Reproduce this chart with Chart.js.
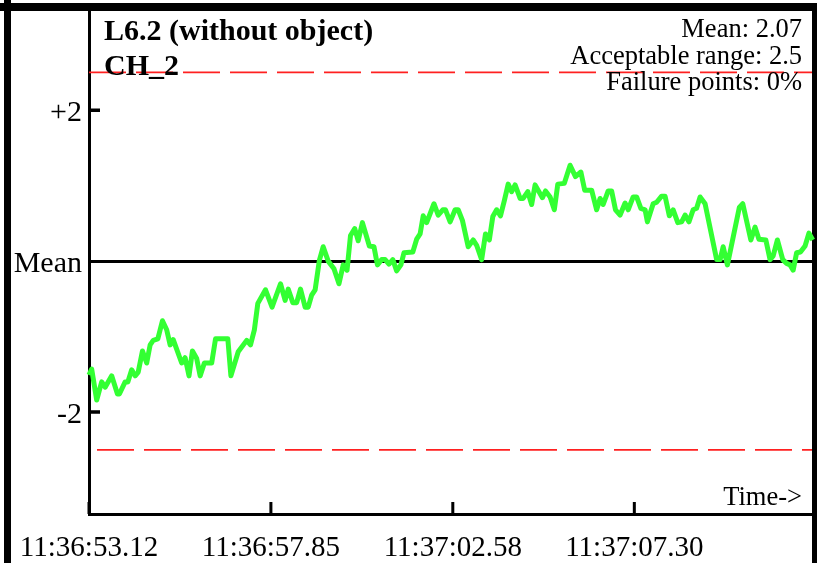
<!DOCTYPE html>
<html>
<head>
<meta charset="utf-8">
<script src="https://cdn.jsdelivr.net/npm/chart.js@4/dist/chart.umd.min.js"></script>
<style>
  html, body { margin: 0; padding: 0; background: #fff; }
  #wrap { width: 817px; height: 563px; position: relative; }
</style>
</head>
<body>
<div id="wrap"><canvas id="c" width="817" height="563"></canvas></div>
<script>
// Panel header and summary text
const titleLines = ['L6.2 (without object)', 'CH_2'];
const statLines = ['Mean: 2.07', 'Acceptable range: 2.5', 'Failure points: 0%'];
const timeAxisNote = 'Time->';

// Limits (deviation from the mean)
const acceptableRange = 2.5;

// Time axis: seconds since the first sample
const timeSpan = 18.80;
const timeTickValues = [0, 4.73, 9.46, 14.18];
const timeTickLabels = ['11:36:53.12', '11:36:57.85', '11:37:02.58', '11:37:07.30'];

// Deviation axis
const devMin = -3.35;
const devMax = 3.30;
const devTickValues = [-2, 0, 2];
const devTickLabels = ['-2', 'Mean', '+2'];

// CH_2 samples: time (s) and deviation from the mean
const sampleTimes = [
  0.00, 0.07, 0.20, 0.33, 0.42, 0.59, 0.74, 0.79, 0.94, 1.01,
  1.11, 1.20, 1.28, 1.39, 1.50, 1.59, 1.67, 1.79, 1.91, 2.02,
  2.11, 2.19, 2.41, 2.50, 2.60, 2.69, 2.80, 2.89, 3.00, 3.19,
  3.29, 3.61, 3.69, 3.88, 4.10, 4.20, 4.30, 4.39, 4.59, 4.76,
  4.98, 5.10, 5.18, 5.30, 5.40, 5.50, 5.62, 5.70, 5.79, 5.88,
  5.99, 6.09, 6.22, 6.37, 6.50, 6.61, 6.71, 6.80, 6.91, 7.00,
  7.11, 7.29, 7.41, 7.50, 7.61, 7.70, 7.80, 7.90, 8.00, 8.11,
  8.19, 8.42, 8.52, 8.61, 8.69, 8.78, 8.97, 9.08, 9.20, 9.27,
  9.39, 9.52, 9.60, 9.71, 9.86, 9.99, 10.08, 10.21, 10.31, 10.41,
  10.50, 10.60, 10.70, 10.80, 10.90, 10.99, 11.08, 11.21, 11.29, 11.41,
  11.51, 11.60, 11.79, 11.87, 11.99, 12.10, 12.19, 12.36, 12.51, 12.65,
  12.79, 12.89, 13.07, 13.20, 13.29, 13.37, 13.50, 13.59, 13.69, 13.81,
  13.94, 14.02, 14.15, 14.24, 14.35, 14.46, 14.52, 14.67, 14.76, 14.89,
  14.98, 15.09, 15.19, 15.31, 15.41, 15.50, 15.60, 15.71, 15.80, 15.89,
  16.02, 16.32, 16.41, 16.49, 16.60, 16.91, 17.00, 17.21, 17.32, 17.42,
  17.60, 17.71, 17.79, 17.90, 18.04, 18.14, 18.23, 18.31, 18.40, 18.50,
  18.62, 18.72, 18.82, 18.88
];
const deviation = [
  -1.51, -1.43, -1.84, -1.60, -1.67, -1.52, -1.76, -1.76, -1.60, -1.60,
  -1.44, -1.52, -1.47, -1.19, -1.35, -1.11, -1.05, -1.03, -0.79, -0.91,
  -1.11, -1.04, -1.35, -1.28, -1.52, -1.19, -1.29, -1.52, -1.35, -1.35,
  -1.03, -1.03, -1.52, -1.20, -1.05, -1.11, -0.91, -0.56, -0.38, -0.61,
  -0.30, -0.52, -0.37, -0.55, -0.55, -0.37, -0.61, -0.61, -0.45, -0.38,
  0.01, 0.19, 0.00, -0.10, -0.30, -0.05, -0.12, 0.34, 0.43, 0.27,
  0.51, 0.20, 0.19, -0.05, 0.02, 0.02, -0.04, 0.02, -0.13, -0.05,
  0.11, 0.12, 0.29, 0.36, 0.60, 0.51, 0.76, 0.61, 0.68, 0.68,
  0.52, 0.68, 0.68, 0.54, 0.19, 0.28, 0.21, 0.02, 0.36, 0.28,
  0.59, 0.68, 0.60, 0.80, 1.02, 0.92, 1.01, 0.83, 0.83, 0.92,
  0.75, 1.01, 0.84, 0.93, 0.85, 0.68, 1.02, 1.03, 1.27, 1.12,
  1.18, 0.94, 0.94, 0.68, 0.83, 0.75, 0.93, 0.93, 0.68, 0.61,
  0.77, 0.68, 0.85, 0.85, 0.70, 0.68, 0.52, 0.76, 0.78, 0.86,
  0.86, 0.60, 0.68, 0.51, 0.52, 0.61, 0.52, 0.68, 0.70, 0.85,
  0.76, 0.02, 0.02, 0.19, -0.05, 0.71, 0.76, 0.28, 0.45, 0.29,
  0.28, 0.02, 0.07, 0.28, 0.02, -0.03, -0.05, -0.12, 0.11, 0.12,
  0.20, 0.37, 0.28, 0.43
];

const SERIF = "'Liberation Serif', 'Times New Roman', serif";
Chart.defaults.font.family = SERIF;
Chart.defaults.color = '#000';

// Thick panel frame, drawn beneath everything else
const panelFrame = {
  id: 'panelFrame',
  beforeDraw(chart) {
    const { ctx, width, height } = chart;
    ctx.save();
    ctx.fillStyle = '#fff';
    ctx.fillRect(0, 0, width, height);
    ctx.fillStyle = '#000';
    ctx.fillRect(0, 3, width, 8);          // top rule
    ctx.fillRect(4, 0, 7, height);         // left rule
    ctx.fillRect(width - 5, 3, 5, height); // right rule
    ctx.restore();
  }
};

// Inward tick marks plus the header / summary text
const panelDecor = {
  id: 'panelDecor',
  afterDatasetsDraw(chart) {
    const { ctx, chartArea, scales } = chart;
    ctx.save();
    ctx.strokeStyle = '#000';
    ctx.lineWidth = 3.5;
    ctx.beginPath();
    devTickValues.forEach(v => {
      if (v === 0) return;
      const y = scales.y.getPixelForValue(v);
      ctx.moveTo(chartArea.left, y);
      ctx.lineTo(chartArea.left + 11, y);
    });
    ctx.stroke();
    ctx.lineWidth = 3;
    ctx.beginPath();
    timeTickValues.forEach(v => {
      const x = scales.x.getPixelForValue(v);
      ctx.moveTo(x, chartArea.bottom);
      ctx.lineTo(x, chartArea.bottom - 12);
    });
    ctx.stroke();

    ctx.fillStyle = '#000';
    ctx.textBaseline = 'alphabetic';
    ctx.textAlign = 'left';
    ctx.font = 'bold 30px ' + SERIF;
    titleLines.forEach((t, i) => ctx.fillText(t, chartArea.left + 15, 40 + i * 35));

    ctx.textAlign = 'right';
    ctx.font = '26.5px ' + SERIF;
    statLines.forEach((t, i) => ctx.fillText(t, chartArea.right - 10, 37 + i * 26.5));
    ctx.fillText(timeAxisNote, chartArea.right - 10, chartArea.bottom - 9);
    ctx.restore();
  }
};

const limitLine = (value, offset) => ({
  data: [{ x: 0, y: value }, { x: timeSpan, y: value }],
  borderColor: '#ff2020',
  borderWidth: 1.6,
  borderDash: [37, 10],
  borderDashOffset: offset,
  pointRadius: 0,
  fill: false,
  order: 2
});

// Fixed scale sizes, with no extra room reserved for edge labels
const fixX = s => { s.height = 49; s.paddingLeft = 0; s.paddingRight = 0; };
const fixY = s => { s.width = 89; s.paddingTop = 0; s.paddingBottom = 0; };

new Chart(document.getElementById('c'), {
  type: 'line',
  data: {
    datasets: [
      {
        label: 'CH_2',
        data: sampleTimes.map((t, i) => ({ x: t, y: deviation[i] })),
        borderColor: '#33ff33',
        borderWidth: 5,
        borderJoinStyle: 'round',
        pointRadius: 0,
        tension: 0,
        fill: false,
        clip: 4,
        order: 1
      },
      limitLine(acceptableRange, 0),
      limitLine(-acceptableRange, 39)
    ]
  },
  options: {
    responsive: false,
    animation: false,
    devicePixelRatio: 1,
    layout: { padding: { left: 0, top: 12, right: 5, bottom: 0 } },
    plugins: { legend: { display: false }, tooltip: { enabled: false } },
    scales: {
      x: {
        type: 'linear',
        min: 0,
        max: timeSpan,
        afterBuildTicks: s => { s.ticks = timeTickValues.map(v => ({ value: v })); },
        afterFit: fixX,
        ticks: {
          callback: (v, i) => timeTickLabels[i],
          autoSkip: false,
          maxRotation: 0,
          font: { size: 29 },
          padding: 17
        },
        grid: { display: false, drawTicks: false },
        border: { display: true, color: '#000', width: 3 }
      },
      y: {
        type: 'linear',
        min: devMin,
        max: devMax,
        afterBuildTicks: s => { s.ticks = devTickValues.map(v => ({ value: v })); },
        afterFit: fixY,
        ticks: {
          callback: (v, i) => devTickLabels[i],
          autoSkip: false,
          font: { size: 30 },
          padding: 7,
          labelOffset: 3
        },
        grid: {
          drawTicks: false,
          lineWidth: 3,
          color: c => (c.tick && c.tick.value === 0 ? '#000' : 'rgba(0,0,0,0)')
        },
        border: { display: true, color: '#000', width: 3 }
      }
    }
  },
  plugins: [panelFrame, panelDecor]
});
</script>
</body>
</html>
